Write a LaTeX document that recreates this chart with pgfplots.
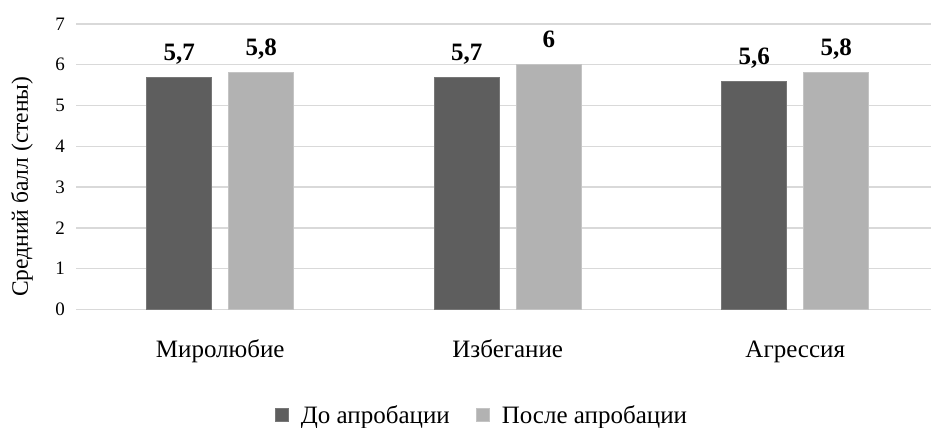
\documentclass[border=0pt]{standalone}
\usepackage{pgfplots}
\usepackage{pgfplotstable}
\usepackage{fontspec}
\setmainfont{Liberation Serif}
\pgfplotsset{compat=1.18}

\definecolor{barDark}{HTML}{5E5E5E}
\definecolor{barDarkEdge}{HTML}{777777}
\definecolor{barLight}{HTML}{B2B2B2}
\definecolor{barLightEdge}{HTML}{C4C4C4}
\definecolor{gridGray}{HTML}{D9D9D9}

% before / after approbation
\pgfplotstableread{
x val
0 5.7
1 5.7
2 5.6
}\before
\pgfplotstableread{
x val
0 5.8
1 6
2 5.8
}\after

\begin{document}
\begin{tikzpicture}
\useasboundingbox (-76.5pt,-118.5pt) rectangle (854.5pt,309.5pt);
\begin{axis}[
    at={(0,0)}, anchor=south west,
    scale only axis,
    width=862.5pt, height=285.5pt,
    xmin=-0.5, xmax=2.5,
    ymin=0, ymax=7,
    ytick={0,1,...,7},
    xtick={0,1,2},
    xticklabels={Миролюбие, Избегание, Агрессия},
    axis line style={draw=none},
    major tick length=0pt,
    ymajorgrids,
    grid style={gridGray, line width=1.3pt},
    ybar=17pt,
    bar width=65pt,
    /pgf/number format/assume math mode=true,
    /pgf/number format/use comma,
    yticklabel style={font=\fontsize{19}{21}\selectfont, xshift=-8pt},
    xticklabel style={font=\fontsize{25}{28}\selectfont, anchor=base, yshift=-48pt},
    every axis y label/.style={at={(axis description cs:-0.0632,0.43)}, rotate=90, anchor=center},
    ylabel={Средний балл (стены)},
    ylabel style={font=\fontsize{23.5}{26}\selectfont},
    nodes near coords,
    every node near coord/.append style={font=\bfseries\fontsize{25}{28}\selectfont, anchor=base, yshift=17pt, inner sep=0pt},
    legend columns=2,
    legend style={draw=none, fill=none, at={(axis description cs:0.4701,-0.3695)}, anchor=center,
        font=\fontsize{25}{28}\selectfont,
        /tikz/every odd column/.append style={column sep=10pt},
        /tikz/every even column/.append style={column sep=24pt}},
    legend image code/.code={\fill[#1] (0pt,-6.5pt) rectangle (13pt,6.5pt);},
]
\addplot[fill=barDark, draw=barDarkEdge, line width=1pt] table[x=x, y=val] {\before};
\addlegendentry{До апробации}
\addplot[fill=barLight, draw=barLightEdge, line width=1pt] table[x=x, y=val] {\after};
\addlegendentry{После апробации}
\end{axis}
\end{tikzpicture}
\end{document}
